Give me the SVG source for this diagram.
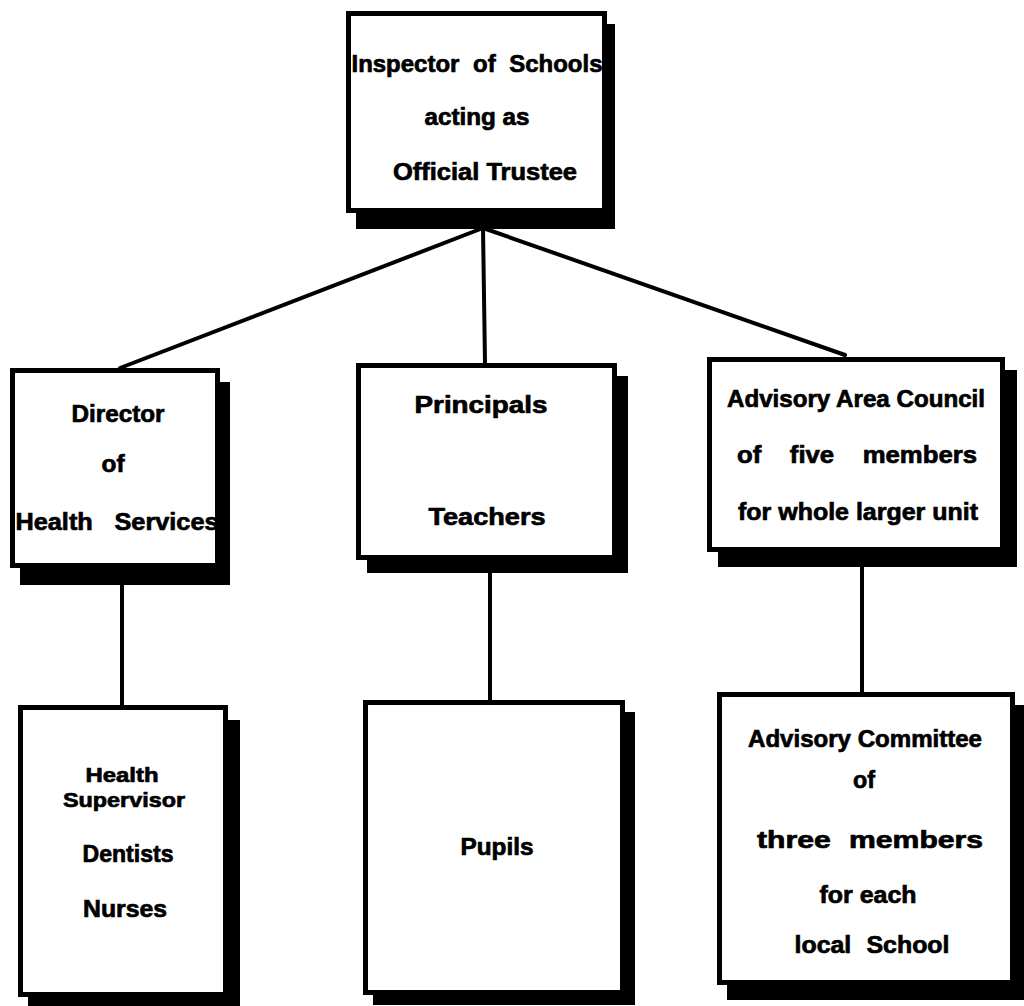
<svg xmlns="http://www.w3.org/2000/svg" width="1024" height="1006" viewBox="0 0 1024 1006">
<style>
.sh{fill:#000}
.bx{fill:#fff;stroke:#000;stroke-width:5}
.t{font-family:"Liberation Sans",Arial,sans-serif;font-weight:bold;font-size:24px;fill:#000;stroke:#000;stroke-width:0.7}
.s{font-size:21px}
.c{stroke:#000;stroke-width:4;fill:none;stroke-linecap:round}
</style>
<rect width="1024" height="1006" fill="#fff"/>
<g id="connectors">
<line class="c" x1="483" y1="228" x2="120" y2="368"/>
<line class="c" x1="483" y1="228" x2="485" y2="363"/>
<line class="c" x1="483" y1="228" x2="845" y2="355"/>
<line class="c" x1="122" y1="580" x2="122" y2="705"/>
<line class="c" x1="490" y1="570" x2="490" y2="700"/>
<line class="c" x1="862" y1="565" x2="862" y2="692"/>
</g>
<g id="inspector">
<rect class="sh" x="356" y="24" width="259" height="205"/>
<rect class="bx" x="348.5" y="13.5" width="256" height="197"/>
<text class="t" x="477" y="72" text-anchor="middle" word-spacing="7" textLength="251" lengthAdjust="spacingAndGlyphs">Inspector of Schools</text>
<text class="t" x="477" y="125" text-anchor="middle" textLength="105" lengthAdjust="spacingAndGlyphs">acting as</text>
<text class="t" x="485" y="180" text-anchor="middle" textLength="184" lengthAdjust="spacingAndGlyphs">Official Trustee</text>
</g>
<g id="director">
<rect class="sh" x="20" y="382" width="210" height="203"/>
<rect class="bx" x="12.5" y="370.5" width="205" height="195"/>
<text class="t" x="118" y="422" text-anchor="middle" textLength="93" lengthAdjust="spacingAndGlyphs">Director</text>
<text class="t" x="113" y="472" text-anchor="middle" textLength="23" lengthAdjust="spacingAndGlyphs">of</text>
<text class="t" x="117" y="530" text-anchor="middle" word-spacing="14" textLength="203" lengthAdjust="spacingAndGlyphs">Health Services</text>
</g>
<g id="principals">
<rect class="sh" x="367" y="376" width="261" height="197"/>
<rect class="bx" x="358.5" y="365.5" width="256" height="192"/>
<text class="t" x="481" y="413" text-anchor="middle" textLength="133" lengthAdjust="spacingAndGlyphs">Principals</text>
<text class="t" x="487" y="525" text-anchor="middle" textLength="117" lengthAdjust="spacingAndGlyphs">Teachers</text>
</g>
<g id="advisory-council">
<rect class="sh" x="718" y="370" width="299" height="197"/>
<rect class="bx" x="709.5" y="359.5" width="293" height="190"/>
<text class="t" x="856" y="407" text-anchor="middle" textLength="258" lengthAdjust="spacingAndGlyphs">Advisory Area Council</text>
<text class="t" x="857" y="463" text-anchor="middle" word-spacing="20" textLength="240" lengthAdjust="spacingAndGlyphs">of five members</text>
<text class="t" x="858" y="520" text-anchor="middle" textLength="240" lengthAdjust="spacingAndGlyphs">for whole larger unit</text>
</g>
<g id="health-staff">
<rect class="sh" x="28" y="720" width="212" height="290"/>
<rect class="bx" x="20.5" y="707.5" width="205" height="287"/>
<text class="t s" x="122" y="782" text-anchor="middle" textLength="73" lengthAdjust="spacingAndGlyphs">Health</text>
<text class="t s" x="124" y="807" text-anchor="middle" textLength="122" lengthAdjust="spacingAndGlyphs">Supervisor</text>
<text class="t" x="128" y="862" text-anchor="middle" textLength="91" lengthAdjust="spacingAndGlyphs">Dentists</text>
<text class="t" x="125" y="917" text-anchor="middle" textLength="84" lengthAdjust="spacingAndGlyphs">Nurses</text>
</g>
<g id="pupils">
<rect class="sh" x="373" y="712" width="262" height="293"/>
<rect class="bx" x="365.5" y="702.5" width="257" height="290"/>
<text class="t" x="497" y="855" text-anchor="middle" textLength="73" lengthAdjust="spacingAndGlyphs">Pupils</text>
</g>
<g id="advisory-committee">
<rect class="sh" x="727" y="705" width="297" height="295"/>
<rect class="bx" x="719.5" y="694.5" width="293" height="288"/>
<text class="t" x="865" y="747" text-anchor="middle" textLength="234" lengthAdjust="spacingAndGlyphs">Advisory Committee</text>
<text class="t" x="864" y="788" text-anchor="middle" textLength="22" lengthAdjust="spacingAndGlyphs">of</text>
<text class="t" x="870" y="848" text-anchor="middle" word-spacing="8" textLength="226" lengthAdjust="spacingAndGlyphs">three members</text>
<text class="t" x="868" y="903" text-anchor="middle" textLength="97" lengthAdjust="spacingAndGlyphs">for each</text>
<text class="t" x="872" y="953" text-anchor="middle" word-spacing="8" textLength="155" lengthAdjust="spacingAndGlyphs">local School</text>
</g>
</svg>
